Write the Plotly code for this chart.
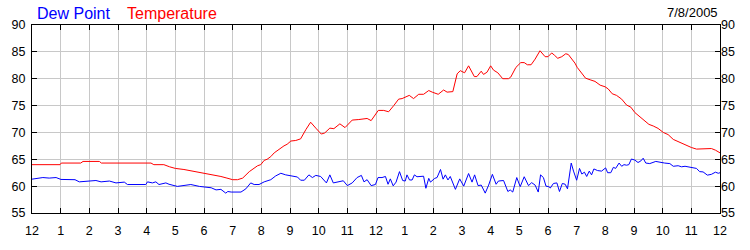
import plotly.graph_objects as go

# ---- data (hours after midnight, °F) ----
temp_hours = [0.0, 0.98, 1.02, 1.7, 1.78, 2.35, 2.42, 4.15, 4.25, 4.6, 4.8, 5.0, 5.3, 5.5, 5.8, 6.0,
              6.3, 6.59, 6.8, 7.0, 7.17, 7.35, 7.58, 7.75, 7.87, 7.98, 8.10, 8.2, 8.33, 8.45, 8.62,
              8.79, 8.9, 9.03, 9.20, 9.37, 9.55, 9.72, 9.90, 10.09, 10.21, 10.39, 10.53, 10.74,
              10.92, 11.17, 11.40, 11.58, 11.69, 11.83, 11.98, 12.08, 12.27, 12.44, 12.62, 12.79,
              12.91, 13.08, 13.16, 13.31, 13.49, 13.66, 13.84, 13.96, 14.17, 14.36, 14.48, 14.68,
              14.83, 14.94, 15.09, 15.23, 15.43, 15.52, 15.67, 15.75, 15.87, 16.0, 16.1, 16.25,
              16.42, 16.62, 16.7, 16.88, 17.05, 17.17, 17.28, 17.41, 17.55, 17.72, 17.9, 18.0,
              18.13, 18.22, 18.34, 18.48, 18.62, 18.71, 18.83, 18.94, 19.02, 19.18, 19.31, 19.47,
              19.64, 19.82, 19.99, 20.1, 20.24, 20.39, 20.57, 20.74, 20.89, 21.03, 21.24, 21.38,
              21.52, 21.67, 21.84, 22.02, 22.19, 22.37, 22.54, 22.71, 22.89, 23.0, 23.18, 23.41,
              23.59, 23.7, 23.84, 23.96, 24.0]
temp_values = [64.0, 64.0, 64.3, 64.3, 64.6, 64.6, 64.3, 64.3, 64.0, 64.0, 63.6, 63.3, 63.1, 62.9,
               62.6, 62.5, 62.2, 61.8, 61.5, 61.2, 61.2, 61.5, 62.7, 63.3, 63.8, 64.0, 64.8, 65.0,
               65.5, 66.2, 66.9, 67.5, 67.8, 68.4, 68.5, 68.8, 70.5, 71.9, 70.8, 69.7, 69.9, 70.8,
               70.7, 71.6, 70.9, 72.3, 72.4, 72.5, 72.6, 72.2, 73.4, 74.1, 74.1, 73.85, 75.0, 76.2,
               76.3, 76.7, 76.9, 76.3, 77.1, 77.1, 77.8, 77.5, 77.1, 77.9, 77.5, 77.6, 80.9, 81.5,
               81.1, 82.4, 80.4, 80.4, 81.4, 80.8, 81.2, 82.4, 81.6, 81.1, 80.0, 80.0, 80.3, 82.1,
               83.0, 83.0, 82.6, 82.6, 83.65, 85.2, 84.1, 84.1, 84.8, 84.4, 83.8, 84.1, 84.65,
               84.5, 83.65, 82.9, 82.1, 81.0, 80.1, 79.8, 79.5, 78.8, 78.5, 78.1, 77.2, 76.9, 76.2,
               75.1, 74.7, 73.7, 72.8, 72.1, 71.5, 71.2, 70.75, 70.0, 69.6, 68.7, 68.3, 67.9, 67.4,
               67.2, 66.9, 66.9, 67.0, 67.0, 66.7, 66.3, 66.2]

dew_hours = [0.0, 0.2, 0.38, 0.6, 0.84, 1.01, 1.3, 1.5, 1.65, 2.0, 2.23, 2.41, 2.7, 2.93, 3.15,
             3.22, 3.33, 3.97, 4.03, 4.20, 4.32, 4.43, 4.67, 4.78, 5.07, 5.3, 5.54, 5.84, 6.17,
             6.25, 6.42, 6.59, 6.76, 6.83, 6.95, 7.29, 7.46, 7.63, 7.75, 7.92, 8.10, 8.33, 8.50,
             8.68, 8.85, 9.03, 9.26, 9.37, 9.50, 9.66, 9.78, 9.90, 10.07, 10.27, 10.39, 10.51,
             10.65, 10.86, 11.0, 11.17, 11.34, 11.49, 11.58, 11.69, 11.83, 11.98, 12.07, 12.21,
             12.33, 12.42, 12.5, 12.6, 12.7, 12.82, 12.93, 13.02, 13.08, 13.17, 13.26, 13.34,
             13.43, 13.55, 13.66, 13.74, 13.84, 13.9, 14.05, 14.13, 14.25, 14.34, 14.42, 14.51,
             14.59, 14.77, 14.92, 15.06, 15.23, 15.35, 15.44, 15.56, 15.67, 15.81, 15.93, 16.06,
             16.19, 16.27, 16.45, 16.6, 16.68, 16.77, 16.91, 17.03, 17.17, 17.32, 17.43, 17.55,
             17.66, 17.74, 17.84, 17.93, 18.03, 18.08, 18.19, 18.31, 18.40, 18.5, 18.6, 18.68,
             18.81, 18.89, 19.0, 19.1, 19.18, 19.27, 19.35, 19.44, 19.52, 19.6, 19.73, 19.87,
             20.01, 20.08, 20.19, 20.28, 20.36, 20.48, 20.57, 20.65, 20.74, 20.82, 20.91, 21.03,
             21.14, 21.24, 21.32, 21.41, 21.55, 21.76, 21.9, 22.07, 22.25, 22.37, 22.54, 22.66,
             22.78, 23.0, 23.18, 23.29, 23.41, 23.56, 23.7, 23.84, 23.94, 24.0]
dew_values = [61.3, 61.4, 61.6, 61.5, 61.6, 61.25, 61.3, 61.2, 60.8, 60.95, 61.05, 60.8, 60.95,
              60.6, 60.75, 60.75, 60.3, 60.3, 60.8, 60.6, 60.8, 60.3, 60.6, 60.35, 59.95, 60.1,
              60.3, 59.95, 59.8, 59.7, 59.3, 59.4, 58.7, 59.0, 58.9, 58.9, 59.5, 60.6, 60.3, 60.3,
              60.8, 61.2, 61.9, 62.4, 62.1, 61.9, 61.7, 61.1, 61.1, 62.1, 61.6, 62.0, 61.8, 60.6,
              62.1, 60.6, 60.8, 61.0, 60.1, 60.6, 61.6, 62.0, 60.8, 61.2, 60.1, 60.3, 61.6, 61.6,
              61.8, 60.35, 61.35, 60.05, 60.75, 62.7, 61.05, 60.95, 62.1, 61.15, 61.15, 62.1,
              61.75, 61.8, 61.85, 59.6, 61.45, 60.75, 61.45, 61.6, 63.1, 61.3, 62.1, 61.15, 61.8,
              59.4, 61.35, 60.0, 62.35, 60.75, 62.1, 60.1, 60.2, 58.7, 60.2, 62.2, 60.35, 60.95,
              61.05, 59.0, 59.3, 58.9, 61.6, 59.9, 61.75, 60.1, 60.65, 60.2, 58.9, 62.1, 61.6,
              60.0, 59.9, 59.65, 60.5, 60.6, 59.0, 60.5, 60.35, 59.5, 64.3, 62.8, 61.1, 63.3,
              62.25, 62.6, 61.8, 62.8, 62.1, 63.2, 62.9, 62.8, 63.4, 62.5, 62.5, 63.5, 63.3, 64.3,
              63.7, 64.0, 63.9, 64.0, 65.05, 64.85, 64.4, 64.7, 65.2, 64.3, 64.2, 64.6, 64.4, 64.3,
              64.2, 63.7, 63.8, 63.6, 63.7, 63.5, 63.3, 62.7, 62.65, 62.05, 62.2, 62.6, 62.4, 62.5]

hour_ticks = list(range(0, 25))
hour_labels = ["12", "1", "2", "3", "4", "5", "6", "7", "8", "9", "10", "11",
               "12", "1", "2", "3", "4", "5", "6", "7", "8", "9", "10", "11", "12"]
y_ticks = [55, 60, 65, 70, 75, 80, 85, 90]
date_label = "7/8/2005"
series_names = ["Dew Point", "Temperature"]

FONT = "Liberation Sans, Arial, sans-serif"
GRID = "#c8c8c8"

fig = go.Figure()
fig.add_trace(go.Scatter(x=dew_hours, y=dew_values, mode="lines", name=series_names[0],
                         line=dict(color="#0000ff", width=1), yaxis="y", hoverinfo="skip"))
fig.add_trace(go.Scatter(x=temp_hours, y=temp_values, mode="lines", name=series_names[1],
                         line=dict(color="#ff0000", width=1), yaxis="y2", hoverinfo="skip"))

axis_common = dict(showline=True, linecolor="black", linewidth=1, ticks="inside", ticklen=5,
                   tickcolor="black", tickwidth=1, tickfont=dict(family=FONT, size=12.5, color="black"),
                   zeroline=False)

fig.update_layout(
    width=750, height=250,
    margin=dict(l=30, r=30, t=25, b=25),
    paper_bgcolor="white", plot_bgcolor="white",
    showlegend=False,
    xaxis=dict(range=[0, 24], tickmode="array", tickvals=hour_ticks, ticktext=hour_labels,
               showgrid=True, gridcolor=GRID, gridwidth=1, mirror="ticks",
               ticklabelstandoff=6, **axis_common),
    yaxis=dict(range=[55, 90], tickmode="array", tickvals=y_ticks, showgrid=True,
               gridcolor=GRID, gridwidth=1, mirror="ticks", ticklabelstandoff=3, **axis_common),
    yaxis2=dict(range=[55, 90], tickmode="array", tickvals=y_ticks, overlaying="y", side="right",
                showgrid=False, showline=False, ticks="", zeroline=False,
                tickfont=dict(family=FONT, size=12.5, color="black")),
    annotations=[
        dict(text=series_names[0], x=3 / 690, y=1.06, xref="paper", yref="paper",
             xanchor="left", yanchor="middle", showarrow=False,
             font=dict(family=FONT, size=16, color="#0000ff")),
        dict(text=series_names[1], x=93 / 690, y=1.06, xref="paper", yref="paper",
             xanchor="left", yanchor="middle", showarrow=False,
             font=dict(family=FONT, size=16, color="#ff0000")),
        dict(text=date_label, x=1.0, y=1.065, xref="paper", yref="paper",
             xanchor="right", yanchor="middle", showarrow=False,
             font=dict(family=FONT, size=13, color="black")),
    ],
)

fig.write_html("out.html", config={"displayModeBar": False})
